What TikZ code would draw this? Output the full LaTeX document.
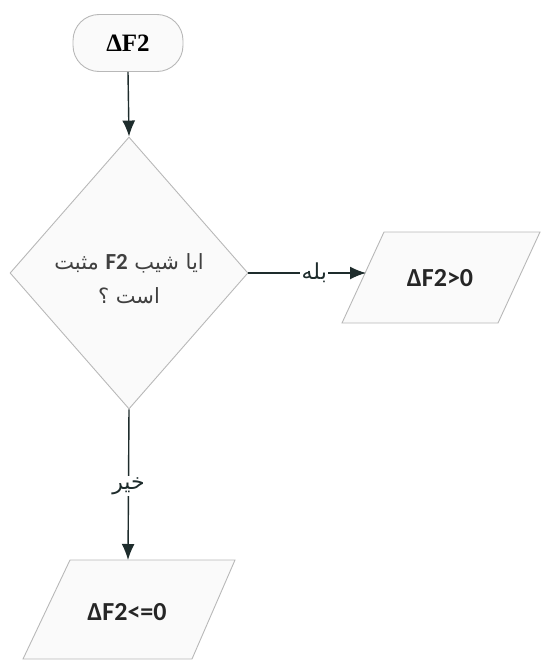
\documentclass[tikz,border=0pt]{standalone}
\usepackage{fontspec}
\usetikzlibrary{shapes.geometric,arrows.meta}
\TeXXeTstate=1
\newfontfamily\arabicfont[Script=Arabic]{DejaVu Sans}
\newfontfamily\calib{Carlito}
\newfontfamily\timesf{Liberation Serif}
\definecolor{edgegray}{HTML}{B8B8B8}
\definecolor{shapefill}{HTML}{FAFAFA}
\definecolor{conncol}{HTML}{1E2C2C}
\definecolor{qtext}{HTML}{404040}
\tikzset{
  shapebox/.style={draw=edgegray, fill=shapefill, line width=0.9pt},
  conn/.style={draw=conncol, line width=1.4pt, -{Latex[length=16pt,width=13pt]}},
  lbl/.style={fill=white, inner sep=1.5pt, font=\arabicfont\fontsize{22}{26}\selectfont, text=conncol},
  outtxt/.style={font=\calib\bfseries\fontsize{26}{30}\selectfont, text=black!85},
}
\begin{document}
\begin{tikzpicture}[x=1pt,y=-1pt]
\useasboundingbox (0,0) rectangle (544,661);
% terminal
\node[shapebox, rounded corners=26pt, minimum width=110pt, minimum height=57pt, inner sep=0pt,
      font=\timesf\bfseries\fontsize{25}{30}\selectfont] (t) at (128,43) {ΔF2};
% decision
\node[shapebox, diamond, minimum width=238pt, minimum height=272pt, inner sep=0pt] (d) at (129,273) {};
\node[align=center, text=qtext, font=\arabicfont\fontsize{21}{34}\selectfont] (dq) at (129,279)
  {\beginR ایا شیب {\calib\bfseries\fontsize{23}{34}\selectfont\beginL F2\endL} مثبت\endR\\\beginR است ؟\endR};
% right output
\draw[shapebox] (384,232) -- (540,232) -- (498,323) -- (342,323) -- cycle;
\coordinate (pr) at (366,273);
\node[outtxt] (o1) at (440,278) {ΔF2>0};
% bottom output
\draw[shapebox] (70,560) -- (235,560) -- (192,659) -- (23,659) -- cycle;
\coordinate (pb) at (128,560);
\node[outtxt] (o2) at (127,612) {ΔF2<=0};
% connectors
\draw[conn] (t.south) -- (d.north);
\draw[conn] (d.east) -- node[lbl, pos=0.56] (yes) {\beginR بله\endR} (pr);
\draw[conn] (d.south) -- node[lbl, pos=0.51] (no) {\beginR خیر\endR} (pb);
\end{tikzpicture}
\end{document}
